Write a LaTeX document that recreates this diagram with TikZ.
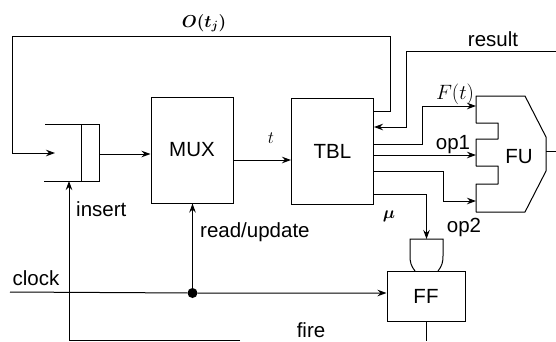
\documentclass[tikz,border=0pt]{standalone}
\usepackage{amsmath,amssymb}
\usepackage{fontspec}
\setmainfont{Liberation Sans}
\usetikzlibrary{arrows.meta, positioning, calc}
\tikzset{
  block/.style={draw=black, line width=1pt, inner sep=0pt, font=\fontsize{20.5}{24}\selectfont},
  lbl/.style={inner sep=0pt, font=\fontsize{20.5}{24}\selectfont},
  wire/.style={black, line width=1pt},
  sig/.style={wire, ->}
}

\begin{document}
\begin{tikzpicture}[x=1pt, y=-1pt, >={Stealth[length=9pt, width=6.5pt]}]
\useasboundingbox (0,0) rectangle (556,341);

% Blocks
\node[block, minimum width=82pt, minimum height=106pt] (mux) at (192,150) {MUX};
\node[block, minimum width=82pt, minimum height=106pt] (tbl) at (332.5,151) {TBL};
\node[block, minimum width=78pt, minimum height=50pt] (ff) at (426,296) {FF};
\node[lbl] (fulabel) at (519,157) {FU};

% Queue
\coordinate (qtop) at (45,124);
\coordinate (qbot) at (44,181);
\coordinate (qin) at (55,153);
\draw[wire] (qtop) -- (99,124) -- (99,181) -- (qbot);
\draw[wire] (81,124) -- (81,181);
\coordinate (qout) at (99,154);

% Functional unit outline with two notches
\coordinate (fuF) at (476,106);
\coordinate (fuA) at (476,155);
\coordinate (fuB) at (476,201);
\coordinate (fuout) at (546,151);
\draw[wire, line join=round] (476,96) -- (525,96) -- (546,137) -- (546,171) -- (525,212) -- (476,212)
  -- (476,184) -- (498,184) -- (498,166) -- (476,166) -- (476,139) -- (498,139) -- (498,123) -- (476,123) -- cycle;

% AND gate above FF
\coordinate (gatetop) at (426.5,239);
\draw[wire] (415,271) .. controls (411,266) and (410,262) .. (410,256) -- (410,239)
  -- (443,239) -- (443,256) .. controls (443,262) and (442,266) .. (438,271);

% Free ends
\coordinate (fbtop) at (12,36);
\coordinate (resout) at (556,51);
\coordinate (clkin) at (10,292);
\coordinate (firein) at (240,340);
\coordinate (ffout) at (426.5,341);
\coordinate (fuend) at (556,151);
\node[circle, fill=black, inner sep=0pt, minimum size=10pt] (clkdot) at (192.5,293) {};

% Connectors
\draw[sig] (qout) -- (mux.west |- qout);
\draw[sig] (mux.east |- 0,160) -- (tbl.west |- 0,160);
\draw[sig] (tbl.east |- 0,111) -- (390,111) -- (390,36) -- (fbtop) -- (12,153) -- (qin);
\draw[sig] (resout) -- (406,51) -- (406,127) -- (tbl.east |- 0,127);
\draw[sig] (tbl.east |- 0,144) -- (422,144) -- (422,106) -- (fuF);
\draw[sig] (tbl.east |- fuA) -- (fuA);
\draw[sig] (tbl.east |- 0,171) -- (443,171) -- (443,201) -- (fuB);
\draw[sig] (tbl.east |- 0,194) -- (gatetop |- 0,194) -- (gatetop);
\draw[wire] (fuout) -- (fuend);
\draw[sig] (clkin) -- (clkdot) -- (ff.west |- clkdot);
\draw[sig] (clkdot) -- (clkdot |- mux.south);
\draw[sig] (firein) -- (69,340) -- (69,181);
\draw[wire] (ff.south -| ffout) -- (ffout);

% Labels
\node[lbl, font=\fontsize{18}{22}\selectfont] (ojlabel) at (204,23) {$\boldsymbol{O(t_j)}$};
\node[lbl] (reslabel) at (493,39) {result};
\node[lbl, font=\fontsize{20}{24}\selectfont] (ftlabel) at (455,94) {$F(t)$};
\node[lbl] (op1label) at (453,145) {op1};
\node[lbl] (op2label) at (464,227) {op2};
\node[lbl, font=\fontsize{18}{22}\selectfont] (tlabel) at (271,138) {$t$};
\node[lbl, font=\fontsize{18}{22}\selectfont] (mulabel) at (389,216) {$\boldsymbol{\mu}$};
\node[lbl, anchor=west] (inslabel) at (76,209) {insert};
\node[lbl, anchor=west] (rulabel) at (200,232) {read/update};
\node[lbl] (clklabel) at (36,278) {clock};
\node[lbl] (firelabel) at (311,330) {fire};

\end{tikzpicture}
\end{document}
